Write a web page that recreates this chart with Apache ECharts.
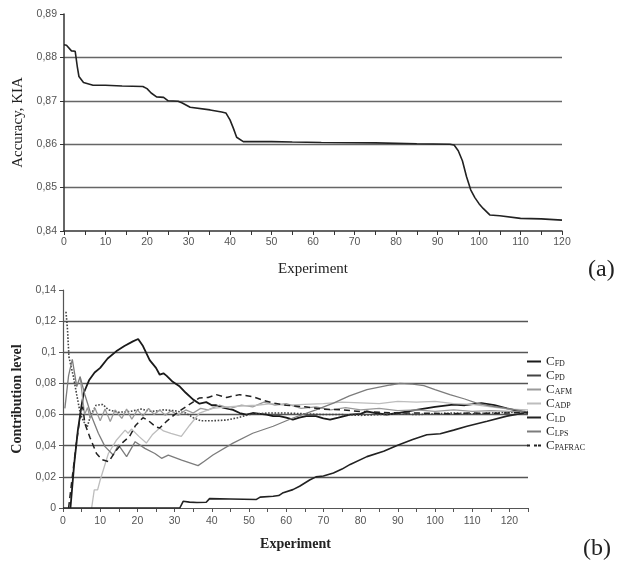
<!DOCTYPE html>
<html>
<head>
<meta charset="utf-8">
<script src="https://cdn.jsdelivr.net/npm/echarts@6/dist/echarts.min.js"></script>
<style>html,body{margin:0;padding:0;background:#fff}#c{width:632px;height:565px}</style>
</head>
<body>
<div id="c"></div>
<script>
// ---- Data (a): accuracy vs experiment ----
const accuracy = [[0,0.8829],[0.6,0.8828],[1.8,0.8815],[2.7,0.8814],[3.2,0.8779],[3.6,0.8756],[4.7,0.8742],[7,0.8736],[10,0.8736],[14,0.8734],[19,0.8733],[20,0.8728],[21,0.8718],[22.3,0.8709],[24,0.8708],[25.1,0.8700],[27.5,0.8699],[28.5,0.8695],[30.4,0.8685],[35.2,0.8679],[38,0.8674],[39,0.8672],[40,0.8656],[40.8,0.8637],[41.6,0.8616],[43.2,0.8606],[50,0.8606],[55,0.8605],[62,0.8604],[75,0.8603],[85,0.8601],[93,0.8600],[94,0.8598],[95,0.8585],[96,0.8562],[97,0.8525],[98,0.8495],[99,0.8477],[100,0.8463],[101,0.8452],[102.6,0.8437],[105,0.8435],[110,0.8429],[115,0.8428],[120,0.8425]];

// ---- Data (b): contribution level ----
const seriesNames = ['CFD','CPD','CAFM','CADP','CLD','CLPS','CPAFRAC'];
const cFD = [[2,0],[3,0.028],[4,0.05],[5,0.066],[5.6,0.074],[7,0.082],[8.5,0.087],[10,0.090],[12,0.096],[14.3,0.1006],[16.5,0.104],[18.8,0.107],[20.2,0.1085],[21.5,0.104],[23.3,0.095],[25,0.090],[26,0.0856],[27,0.0865],[27.8,0.085],[29.5,0.081],[31.4,0.078],[33,0.074],[35,0.0696],[36.7,0.067],[38.5,0.068],[40,0.066],[41.2,0.066],[43,0.0645],[45.7,0.063],[47.5,0.061],[49.3,0.060],[51,0.061],[53,0.0605],[54.7,0.060],[56.5,0.059],[58.2,0.059],[60,0.058],[61.8,0.0567],[63.5,0.058],[65.4,0.059],[68,0.059],[70,0.0575],[71.8,0.0567],[74,0.058],[77.2,0.060],[80,0.0605],[81.7,0.062],[84,0.061],[87,0.060],[90,0.061],[95,0.063],[100,0.065],[104.9,0.0664],[108,0.066],[112.5,0.0674],[116,0.066],[119.3,0.064],[122,0.0625],[125,0.061]];
const cPD = [[0.8,0.126],[1.2,0.115],[1.6,0.097],[2.8,0.0843],[3.7,0.0726],[4.7,0.060],[5.7,0.055],[6.5,0.052],[7.5,0.060],[8.9,0.066],[10.7,0.0665],[12.2,0.063],[15,0.0615],[18,0.062],[21,0.0635],[24,0.062],[27,0.063],[30,0.0625],[33,0.061],[35,0.058],[37,0.056],[40,0.056],[44,0.0565],[47,0.058],[50,0.060],[55,0.061],[60,0.061],[65,0.0605],[70,0.060],[75,0.060],[80,0.0595],[85,0.060],[90,0.0605],[95,0.060],[100,0.0605],[105,0.061],[110,0.0605],[115,0.061],[120,0.0615],[125,0.062]];
const cAFM = [[4.6,0.0843],[5.8,0.060],[6.6,0.0645],[7.3,0.0575],[8.6,0.064],[10,0.056],[11.3,0.0635],[12.7,0.0555],[14,0.063],[15.8,0.0575],[17.1,0.0635],[18.5,0.057],[20,0.063],[21.5,0.059],[23,0.064],[24.5,0.060],[26,0.063],[27.5,0.0595],[29,0.0625],[31,0.0595],[33,0.063],[35,0.061],[37,0.064],[39,0.063],[42,0.066],[45,0.064],[48,0.066],[51,0.065],[54,0.068],[57,0.066],[60,0.067],[64,0.064],[68,0.065],[72,0.063],[76,0.0645],[80,0.063],[85,0.064],[90,0.0625],[95,0.063],[100,0.062],[105,0.063],[110,0.062],[115,0.0625],[120,0.062],[125,0.0615]];
const cADP = [[7.7,0],[8.4,0.0116],[9.3,0.0116],[10,0.018],[12.2,0.035],[14.4,0.0437],[16.7,0.050],[17.5,0.048],[18.4,0.0507],[20.4,0.046],[22.4,0.0417],[24,0.047],[26,0.0514],[27,0.0495],[29,0.048],[31.8,0.046],[34,0.053],[36.7,0.061],[38.5,0.0625],[40.3,0.064],[44,0.065],[48,0.0655],[52,0.066],[56,0.067],[60,0.066],[65,0.0665],[70,0.067],[75,0.068],[80,0.0675],[85,0.067],[90,0.0685],[95,0.068],[100,0.0685],[105,0.067],[110,0.0665],[115,0.065],[120,0.0635],[125,0.063]];
const cLD = [[0,0],[31.4,0],[32.3,0.0043],[34,0.0038],[36,0.0035],[38.5,0.0037],[39.4,0.006],[45,0.0058],[52,0.0055],[53,0.007],[56.5,0.0075],[58,0.008],[59,0.0096],[61.8,0.0118],[63.6,0.014],[66.3,0.018],[68,0.020],[70,0.0205],[72.7,0.0225],[75,0.025],[77.2,0.028],[81.7,0.033],[86.2,0.0364],[89.8,0.0402],[94,0.044],[97.8,0.047],[101.4,0.0477],[105,0.050],[108.6,0.0525],[114,0.0557],[119.3,0.059],[124,0.061]];
const cLPS = [[0.5,0.064],[1.5,0.085],[2.5,0.0955],[3.7,0.078],[4.6,0.0843],[5.9,0.0726],[7.7,0.0587],[9.5,0.048],[11.3,0.0394],[13.5,0.034],[14.9,0.0405],[17.1,0.033],[19.4,0.0426],[22,0.0383],[24.7,0.035],[26.5,0.0319],[28.3,0.034],[31.9,0.0308],[36.3,0.0272],[38,0.030],[40.3,0.034],[45.7,0.0417],[51,0.048],[56.5,0.0525],[61.8,0.0578],[68,0.063],[72.7,0.0674],[77,0.072],[81.7,0.076],[88,0.079],[90.6,0.080],[94,0.0795],[97,0.0786],[100,0.076],[104,0.0728],[108,0.070],[111.2,0.0674],[115,0.0655],[119.3,0.064],[124,0.062]];
const cPAFRAC = [[1.5,0],[2.5,0.02],[3.5,0.04],[4.6,0.0587],[5.3,0.065],[5.9,0.054],[7.3,0.045],[9,0.035],[10.5,0.031],[12.3,0.0297],[14,0.036],[16,0.042],[17.9,0.046],[19.5,0.053],[21.5,0.058],[23,0.056],[25,0.052],[26,0.0514],[28,0.056],[30,0.060],[33,0.065],[36.7,0.0707],[39,0.071],[41.2,0.0728],[44,0.071],[47.5,0.0728],[51,0.0715],[54,0.069],[56.5,0.0674],[60,0.066],[65,0.065],[70,0.0635],[75,0.063],[80,0.062],[85,0.0615],[90,0.061],[95,0.061],[100,0.0608],[105,0.0605],[110,0.061],[115,0.0608],[120,0.061],[125,0.0615]];

const fmtNum = v => String(+(+v).toFixed(2)).replace('.', ',');
const tickFont = {fontFamily: 'Liberation Sans, Arial, sans-serif', fontSize: 10.5, color: '#555'};
const serif = 'Liberation Serif, Times New Roman, serif';

const solidIcon = 'path://M0,0h14v2h-14z';
const dashIcon = 'path://M0,0h3v2h-3z M7,0h3v2h-3z M11,0h3v2h-3z';
const legendIcons = {CFD: solidIcon, CPD: solidIcon, CAFM: solidIcon, CADP: solidIcon, CLD: solidIcon, CLPS: solidIcon, CPAFRAC: dashIcon};

const chart = echarts.init(document.getElementById('c'));
const lineBase = {type: 'line', symbol: 'none', showSymbol: false, xAxisIndex: 1, yAxisIndex: 1, animation: false};

chart.setOption({
  animation: false,
  grid: [
    {left: 64, top: 14, width: 498, height: 217},
    {left: 63, top: 290, width: 465, height: 218}
  ],
  xAxis: [
    {type: 'value', gridIndex: 0, min: 0, max: 120, interval: 5,
     name: 'Experiment', nameLocation: 'middle', nameGap: 31,
     nameTextStyle: {fontFamily: serif, fontSize: 15, color: '#222'},
     axisLine: {lineStyle: {color: '#333', width: 1.5}},
     axisTick: {show: true, length: 4, lineStyle: {color: '#333'}},
     axisLabel: Object.assign({margin: 6, formatter: v => (v % 10 === 0 ? String(v) : '')}, tickFont),
     splitLine: {show: false}},
    {type: 'value', gridIndex: 1, min: 0, max: 125, interval: 5,
     name: 'Experiment', nameLocation: 'middle', nameGap: 29,
     nameTextStyle: {fontFamily: serif, fontSize: 14, fontWeight: 'bold', color: '#222'},
     axisLine: {lineStyle: {color: '#555', width: 1.2}},
     axisTick: {show: true, length: 4, lineStyle: {color: '#555'}},
     axisLabel: Object.assign({margin: 8, formatter: v => (v % 10 === 0 && v <= 120 ? String(v) : '')}, tickFont),
     splitLine: {show: false}}
  ],
  yAxis: [
    {type: 'value', gridIndex: 0, min: 0.84, max: 0.89, interval: 0.01,
     name: 'Accuracy, KIA', nameLocation: 'middle', nameGap: 36,
     nameTextStyle: {fontFamily: serif, fontSize: 15, color: '#222'},
     axisLine: {show: true, lineStyle: {color: '#333', width: 1.5}},
     axisTick: {show: true, length: 4, lineStyle: {color: '#333'}},
     axisLabel: Object.assign({margin: 7, formatter: fmtNum}, tickFont),
     splitLine: {show: true, lineStyle: {width: 1.4, color: ['transparent', '#666', '#666', '#666', '#666', 'transparent']}}},
    {type: 'value', gridIndex: 1, min: 0, max: 0.14, interval: 0.02,
     name: 'Contribution level', nameLocation: 'middle', nameGap: 36,
     nameTextStyle: {fontFamily: serif, fontSize: 14, fontWeight: 'bold', color: '#222'},
     axisLine: {show: true, lineStyle: {color: '#555', width: 1.2}},
     axisTick: {show: true, length: 4, lineStyle: {color: '#555'}},
     axisLabel: Object.assign({margin: 7, formatter: fmtNum}, tickFont),
     splitLine: {show: true, lineStyle: {width: 1.3, color: ['transparent', '#555', '#555', '#555', '#555', '#555', '#555', 'transparent']}}}
  ],
  legend: {
    orient: 'vertical', left: 522, top: 350, itemWidth: 14, itemHeight: 2, itemGap: 1,
    data: seriesNames.map(n => ({name: n, icon: legendIcons[n]})),
    formatter: n => '{c|C}{s|' + n.slice(1) + '}',
    textStyle: {rich: {
      c: {fontFamily: serif, fontSize: 13, color: '#222', lineHeight: 13},
      s: {fontFamily: serif, fontSize: 8, color: '#222', padding: [5, 0, 0, 0], lineHeight: 13}
    }}
  },
  graphic: [
    {type: 'text', left: 588, top: 258, style: {text: '(a)', fontFamily: serif, fontSize: 24, fill: '#222'}},
    {type: 'text', left: 583, top: 537, style: {text: '(b)', fontFamily: serif, fontSize: 24, fill: '#222'}}
  ],
  series: [
    {type: 'line', symbol: 'none', xAxisIndex: 0, yAxisIndex: 0, data: accuracy, lineStyle: {color: '#222', width: 1.6}, itemStyle: {color: '#222'}},
    Object.assign({}, lineBase, {name: 'CFD', data: cFD, lineStyle: {color: '#1a1a1a', width: 1.8}, itemStyle: {color: '#1a1a1a'}}),
    Object.assign({}, lineBase, {name: 'CPD', data: cPD, lineStyle: {color: '#444', width: 1.6, type: 'dotted'}, itemStyle: {color: '#444'}}),
    Object.assign({}, lineBase, {name: 'CAFM', data: cAFM, lineStyle: {color: '#9a9a9a', width: 1.3}, itemStyle: {color: '#9a9a9a'}}),
    Object.assign({}, lineBase, {name: 'CADP', data: cADP, lineStyle: {color: '#bdbdbd', width: 1.3}, itemStyle: {color: '#bdbdbd'}}),
    Object.assign({}, lineBase, {name: 'CLD', data: cLD, lineStyle: {color: '#222', width: 1.6}, itemStyle: {color: '#222'}}),
    Object.assign({}, lineBase, {name: 'CLPS', data: cLPS, lineStyle: {color: '#7c7c7c', width: 1.3}, itemStyle: {color: '#7c7c7c'}}),
    Object.assign({}, lineBase, {name: 'CPAFRAC', data: cPAFRAC, lineStyle: {color: '#222', width: 1.5, type: [6, 4]}, itemStyle: {color: '#222'}})
  ]
});
</script>
</body>
</html>
